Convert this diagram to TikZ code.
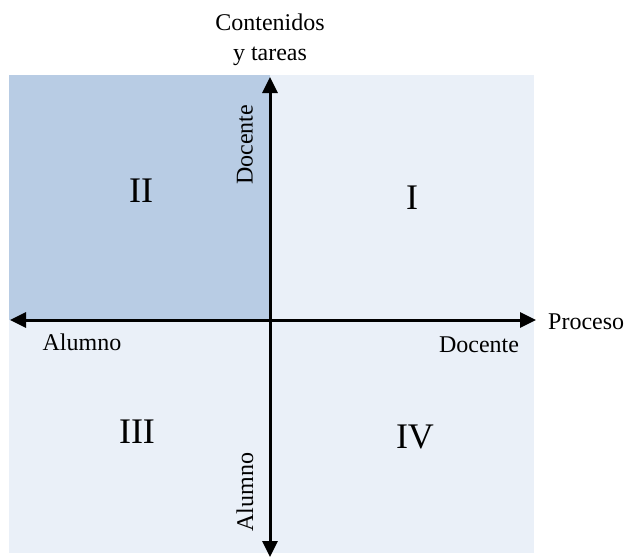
\documentclass[tikz,border=0pt]{standalone}
\usepackage{fontspec}
\setmainfont{Liberation Serif}
\usetikzlibrary{arrows.meta}
\definecolor{cuadclaro}{RGB}{234,240,248}
\definecolor{cuadoscuro}{RGB}{184,204,228}

\begin{document}
\begin{tikzpicture}[x=1pt,y=-1pt,
    eje/.style={line width=3pt, {Triangle[length=16pt,width=15pt]}-{Triangle[length=16pt,width=15pt]}},
    etiq/.style={font=\fontsize{24}{30}\selectfont, inner sep=0pt},
    romano/.style={font=\fontsize{36}{40}\selectfont, inner sep=0pt}]
    \useasboundingbox (0,0) rectangle (627,560);
    \fill[cuadclaro] (9,75) rectangle (534,553);
    \fill[cuadoscuro] (9,75) rectangle (270,320);
    \coordinate (izq) at (10,320);
    \coordinate (der) at (536,320);
    \coordinate (arr) at (270,77);
    \coordinate (aba) at (270,557);
    \draw[eje] (izq) -- (der);
    \draw[eje] (aba) -- (arr);
    \node[etiq, align=center] (contenidos) at (270,40) {Contenidos\\y tareas};
    \node[etiq, anchor=west] (proceso) at (548,322) {Proceso};
    \node[etiq] (alumnoh) at (82,342) {Alumno};
    \node[etiq] (docenteh) at (479,345) {Docente};
    \node[etiq, rotate=90] (docentev) at (245,145) {Docente};
    \node[etiq, rotate=90] (alumnov) at (245,492) {Alumno};
    \node[romano] (dos) at (141,191) {II};
    \node[romano] (uno) at (412,198) {I};
    \node[romano] (tres) at (137,432) {III};
    \node[romano] (cuatro) at (415,437) {IV};
  \end{tikzpicture}
\end{document}
